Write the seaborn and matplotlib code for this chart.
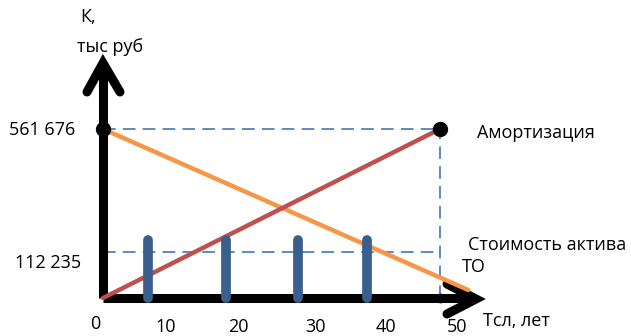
import matplotlib
matplotlib.use("Agg")
import matplotlib.pyplot as plt
import seaborn as sns
import pandas as pd

# данные схемы
k_max = 561676
k_level = 153000          # уровень пунктирной линии "112 235" (на схеме не в масштабе)
y_labels = ["561 676", "112 235"]
t_end = 50
x_ticks = [0, 10, 20, 30, 40, 50]

amort_t = [0, 50]
amort_k = [0, 561676]
cost_t = [0, 54.2]
cost_k = [561676, 26600]

to_t = [6.7, 18.2, 28.9, 39.2]
to_k = [192800, 192800, 192800, 192800]

sns.set_style("white")
plt.rcParams['font.family'] = ['Open Sans', 'DejaVu Sans']

W, H = 631, 336
fig = plt.figure(figsize=(W / 100, H / 100), dpi=100)
ax = fig.add_axes([0, 0, 1, 1])

# перевод пикселей в координаты данных
sx = 337 / t_end
sy = 169 / k_max
def px(x):
    return (x - 103) / sx
def py(y):
    return (298 - y) / sy

ax.set_xlim(px(0), px(W))
ax.set_ylim(py(H), py(0))
ax.axis("off")

blue = "#4F81BD"
# пунктир
ax.plot([0, t_end], [k_max, k_max], color=blue, lw=1.3, dashes=(7, 4), zorder=1)
ax.plot([0, t_end], [k_level, k_level], color=blue, lw=1.3, dashes=(7, 4), zorder=1)
ax.plot([t_end, t_end], [0, k_max], color=blue, lw=1.3, dashes=(7, 4), zorder=1)

# оси со стрелками
ax.plot([0, 0], [0, py(64)], color="black", lw=6.5, solid_capstyle="butt", zorder=2)
ax.plot([px(87), 0, px(120)], [py(92), py(63), py(92)], color="black", lw=6.5,
        solid_joinstyle="miter", solid_capstyle="round", zorder=2)
ax.plot([0, px(474)], [0, 0], color="black", lw=6.5, solid_capstyle="butt", zorder=2)
ax.plot([px(447), px(476), px(447)], [py(284), py(299), py(314)], color="black", lw=6.5,
        solid_joinstyle="miter", solid_capstyle="round", zorder=2)

# линии
df_a = pd.DataFrame({"t": amort_t, "k": amort_k})
df_c = pd.DataFrame({"t": cost_t, "k": cost_k})
sns.lineplot(data=df_c, x="t", y="k", color="#F79646", lw=3.2, ax=ax, zorder=3)
sns.lineplot(data=df_a, x="t", y="k", color="#C0504D", lw=3.2, ax=ax, zorder=4)

# ТО
for t, k in zip(to_t, to_k):
    ax.plot([t, t], [0, k], color="#3A5F8C", lw=7, solid_capstyle="round", zorder=5)

# точки
ax.plot([0, t_end], [k_max, k_max], "o", color="black", ms=10, zorder=6)
ax.plot([t_end], [0], "o", color="black", ms=6, zorder=6)

fs = 13
def txt(x, y, s, ha="left"):
    fig.text(x / W, 1 - y / H, s, ha=ha, va="center", fontsize=fs, color="black")

txt(80, 17, "К,")
txt(77, 47, "тыс руб")
txt(42, 130, y_labels[0], ha="center")
txt(48, 263, y_labels[1], ha="center")
tick_pos = [(95, 324), (166, 327), (238, 327), (315, 327), (386, 327), (457, 327)]
for v, (x, y) in zip(x_ticks, tick_pos):
    txt(x, y, str(v), ha="center")
txt(477, 133, "Амортизация")
txt(468, 245, "Стоимость актива")
txt(462, 267, "ТО")
txt(483, 321, "Тсл, лет")

fig.savefig("out.png", dpi=100)
